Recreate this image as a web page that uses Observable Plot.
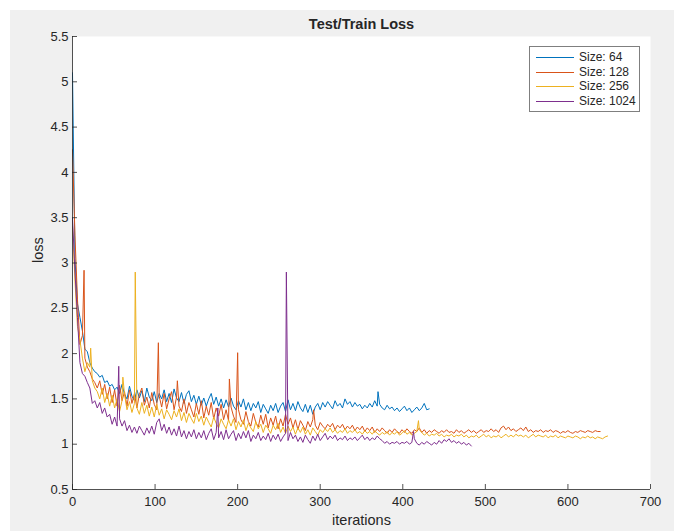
<!DOCTYPE html>
<html><head><meta charset="utf-8">
<script src="https://cdn.jsdelivr.net/npm/d3@7"></script>
<script src="https://cdn.jsdelivr.net/npm/@observablehq/plot@0.6"></script>
<style>
body{margin:0;background:#fff;font-family:"Liberation Sans",Arial,Helvetica,sans-serif;}
#wrap{position:absolute;left:10px;top:10px;width:664px;height:521px;background:#f0f0f0;overflow:hidden;}
#legend{position:absolute;left:519px;top:36px;width:109px;height:64px;background:#fff;border:1px solid #7f7f7f;font-size:12px;color:#262626;}
.row{position:absolute;left:0;height:14px;line-height:14px;white-space:nowrap;}
.sw{position:absolute;left:6px;top:7px;width:38px;height:0;border-top:1px solid;}
.lb{position:absolute;left:49px;top:0;}
</style>
</head><body>
<div id="wrap"><div id="chart"></div><div id="legend"></div></div>
<script>
const step = 3; // iterations between stored samples
const sizes = ["Size: 64", "Size: 128", "Size: 256", "Size: 1024"];
const colors = ["#0072BD", "#D95319", "#EDB120", "#7E2F8E"];
const xTicks = [0, 100, 200, 300, 400, 500, 600, 700];
const yTicks = [0.5, 1, 1.5, 2, 2.5, 3, 3.5, 4, 4.5, 5, 5.5];

const loss64 = [5.10,3.05,2.55,2.40,2.25,2.05,2.02,1.90,1.84,1.80,1.78,1.74,1.76,1.68,1.70,1.64,1.66,1.60,1.63,1.56,
1.66,1.55,1.50,1.64,1.53,1.48,1.60,1.51,1.59,1.47,
1.62,1.52,1.48,1.58,1.46,1.56,1.50,1.60,1.47,1.56,
1.46,1.61,1.51,1.47,1.57,1.45,1.55,1.59,1.47,1.54,
1.44,1.53,1.43,1.51,1.42,1.50,1.56,1.44,1.52,1.42,
1.50,1.40,1.49,1.41,1.51,1.42,1.38,1.48,1.41,1.50,
1.38,1.46,1.37,1.45,1.40,1.47,1.35,1.44,1.39,1.34,
1.43,1.37,1.45,1.35,1.42,1.46,1.36,1.49,1.38,1.45,
1.37,1.47,1.40,1.36,1.44,1.35,1.43,1.33,1.41,1.45,
1.38,1.46,1.41,1.47,1.43,1.39,1.48,1.42,1.45,1.40,1.50,1.44,1.47,1.41,1.46,1.42,1.44,1.39,1.43,1.40,
1.45,1.41,1.48,1.42,1.44,1.40,1.38,1.43,1.39,1.41,1.37,1.40,1.36,1.39,1.42,1.37,1.40,1.35,1.38,1.41,
1.37,1.40,1.45,1.38,1.39];
const spikes64 = [[370, 1.58]];

const loss128 = [4.25,3.30,2.60,2.10,2.20,1.95,1.85,1.80,1.72,1.68,
1.62,1.70,1.55,1.66,1.50,1.63,1.46,1.60,1.42,1.65,
1.48,1.58,1.42,1.60,1.45,1.56,1.40,1.55,1.62,1.43,
1.52,1.40,1.57,1.44,1.38,1.53,1.41,1.56,1.39,1.50,
1.58,1.38,1.52,1.42,1.36,1.50,1.34,1.46,1.38,1.30,
1.45,1.33,1.48,1.29,1.42,1.32,1.46,1.28,1.40,1.31,
1.44,1.27,1.38,1.26,1.41,1.31,1.24,1.38,1.27,1.22,
1.36,1.25,1.20,1.34,1.24,1.19,1.32,1.22,1.33,1.18,
1.29,1.21,1.31,1.17,1.28,1.20,1.33,1.22,1.29,1.18,
1.27,1.16,1.26,1.21,1.15,1.25,1.19,1.27,1.21,1.16,
1.24,1.20,1.17,1.22,1.19,1.23,1.16,1.21,1.18,1.22,1.16,1.20,1.17,1.21,1.15,1.19,1.16,1.20,1.14,1.18,
1.15,1.19,1.13,1.17,1.14,1.18,1.15,1.12,1.16,1.13,1.17,1.14,1.12,1.16,1.13,1.17,1.14,1.12,1.16,1.14,
1.18,1.13,1.16,1.12,1.15,1.13,1.16,1.14,1.12,1.15,1.13,1.16,1.13,1.14,1.12,1.16,1.13,1.15,1.12,1.14,
1.16,1.13,1.15,1.12,1.14,1.16,1.13,1.15,1.14,1.17,1.14,1.16,1.13,1.18,1.20,1.16,1.19,1.15,1.17,1.14,
1.16,1.18,1.15,1.19,1.14,1.16,1.13,1.15,1.14,1.16,1.13,1.15,1.14,1.16,1.13,1.15,1.14,1.12,1.14,1.13,
1.15,1.13,1.12,1.14,1.13,1.15,1.14,1.13,1.15,1.14,1.13,1.15,1.14,1.14];
const spikes128 = [[14, 2.92], [104, 2.12], [127, 1.70], [190, 1.72], [200, 2.01], [292, 1.38]];

const loss256 = [3.40,2.80,2.30,2.15,1.95,1.80,1.90,1.85,1.70,1.62,
1.58,1.50,1.62,1.46,1.56,1.42,1.54,1.40,1.50,1.36,
1.48,1.55,1.38,1.47,1.35,1.45,1.40,1.33,1.46,1.34,
1.43,1.31,1.41,1.30,1.44,1.32,1.39,1.28,1.38,1.33,
1.27,1.37,1.30,1.39,1.26,1.35,1.24,1.34,1.28,1.23,
1.34,1.25,1.31,1.21,1.30,1.24,1.19,1.30,1.23,1.18,
1.28,1.22,1.17,1.27,1.20,1.28,1.16,1.25,1.19,1.27,
1.15,1.23,1.18,1.14,1.25,1.17,1.22,1.13,1.21,1.17,
1.12,1.21,1.16,1.23,1.13,1.19,1.12,1.20,1.14,1.19,
1.11,1.18,1.13,1.19,1.11,1.16,1.10,1.18,1.14,1.10,
1.16,1.13,1.17,1.14,1.18,1.13,1.16,1.12,1.15,1.13,1.17,1.12,1.15,1.13,1.16,1.12,1.14,1.11,1.15,1.12,
1.14,1.11,1.15,1.12,1.10,1.13,1.11,1.14,1.10,1.13,1.11,1.14,1.10,1.12,1.15,1.11,1.13,1.10,1.12,1.14,
1.16,1.13,1.10,1.12,1.09,1.11,1.10,1.12,1.09,1.11,1.08,1.10,1.09,1.11,1.08,1.10,1.09,1.11,1.08,1.10,
1.07,1.09,1.08,1.10,1.07,1.09,1.11,1.08,1.10,1.07,1.09,1.08,1.10,1.07,1.09,1.11,1.08,1.10,1.08,1.11,
1.09,1.10,1.08,1.10,1.07,1.09,1.11,1.08,1.10,1.09,1.08,1.10,1.07,1.09,1.08,1.10,1.07,1.09,1.08,1.07,
1.09,1.08,1.07,1.09,1.08,1.06,1.08,1.07,1.09,1.07,1.08,1.06,1.08,1.07,1.06,1.08,1.09];
const spikes256 = [[22, 2.06], [61, 1.74], [76, 2.90], [419, 1.26]];

const loss1024 = [3.50,2.90,2.40,1.90,1.78,1.75,1.68,1.62,1.45,1.48,
1.40,1.46,1.34,1.40,1.30,1.33,1.22,1.30,1.20,1.28,
1.20,1.26,1.15,1.21,1.13,1.19,1.12,1.20,1.15,1.10,
1.18,1.12,1.20,1.11,1.24,1.28,1.15,1.22,1.12,1.19,
1.10,1.17,1.09,1.20,1.08,1.15,1.06,1.14,1.08,1.16,
1.06,1.13,1.07,1.15,1.05,1.12,1.17,1.05,1.13,1.07,
1.14,1.05,1.16,1.06,1.11,1.15,1.04,1.12,1.06,1.14,
1.07,1.15,1.03,1.10,1.06,1.13,1.04,1.09,1.05,1.12,
1.03,1.10,1.05,1.11,1.03,1.08,1.12,1.04,1.13,1.06,
1.10,1.03,1.08,1.02,1.10,1.05,1.01,1.09,1.04,1.11,
1.04,1.08,1.12,1.05,1.09,1.06,1.10,1.04,1.07,1.05,1.09,1.04,1.07,1.05,1.08,1.04,1.07,1.10,1.05,1.08,
1.04,1.07,1.05,1.09,1.06,1.04,1.01,1.03,1.00,1.02,1.01,1.03,1.00,1.02,1.01,1.03,1.00,1.02,1.06,1.01,
0.99,1.02,1.00,1.03,1.01,0.99,1.02,1.00,1.04,1.01,1.05,1.03,1.06,1.02,1.04,1.01,1.03,1.00,1.02,0.99,
1.01,0.98];
const spikes1024 = [[56, 1.86], [176, 1.40], [259, 2.90], [413, 1.14]];

function build(name, values, spikes) {
  const pts = values.map((v, i) => ({size: name, iter: i * step, loss: v}));
  spikes.forEach(([it, v]) => pts.push({size: name, iter: it, loss: v}));
  return pts.sort((a, b) => a.iter - b.iter);
}
const data = [
  ...build(sizes[0], loss64, spikes64),
  ...build(sizes[1], loss128, spikes128),
  ...build(sizes[2], loss256, spikes256),
  ...build(sizes[3], loss1024, spikes1024)
];

const W = 664, H = 521, mL = 62, mR = 24, mT = 26, mB = 42;
const ink = "#262626";
const font = '"Liberation Sans", Arial, Helvetica, sans-serif';

const chart = Plot.plot({
  width: W, height: H,
  marginLeft: mL, marginRight: mR, marginTop: mT, marginBottom: mB,
  style: {background: "transparent", fontFamily: font, fontSize: "13px", color: ink, overflow: "visible"},
  x: {domain: [0, 700], label: null},
  y: {domain: [0.5, 5.5], label: null},
  color: {domain: sizes, range: colors},
  marks: [
    Plot.frame({fill: "white", stroke: null}),
    Plot.line(data, {x: "iter", y: "loss", z: "size", stroke: "size", strokeWidth: 1}),
    Plot.tickX(xTicks, {x: d => d, stroke: ink, strokeWidth: 0.8, insetTop: H - mT - mB - 5}),
    Plot.tickY(yTicks, {y: d => d, stroke: ink, strokeWidth: 0.8, insetRight: W - mL - mR - 5}),
    Plot.ruleX([0], {stroke: ink, strokeWidth: 0.8}),
    Plot.ruleY([0.5], {stroke: ink, strokeWidth: 0.8}),
    Plot.axisX(xTicks, {tickSize: 0, tickPadding: 7, tickFormat: d => String(d), fontSize: 13, fill: ink}),
    Plot.axisY(yTicks, {tickSize: 0, tickPadding: 4, tickFormat: d => String(d), fontSize: 13, fill: ink}),
    Plot.text(["Test/Train Loss"], {text: d => d, frameAnchor: "top", dy: -12, fontWeight: "bold", fontSize: 14.5, fill: ink, lineAnchor: "middle"}),
    Plot.text(["iterations"], {text: d => d, frameAnchor: "bottom", dy: 31, fontSize: 14.5, fill: ink, lineAnchor: "middle"}),
    Plot.text(["loss"], {text: d => d, frameAnchor: "left", dx: -34, rotate: -90, fontSize: 14.5, fill: ink, lineAnchor: "middle"})
  ]
});
document.getElementById("chart").appendChild(chart);

const legend = document.getElementById("legend");
sizes.forEach((s, i) => {
  const row = document.createElement("div");
  row.className = "row";
  row.style.top = (3 + i * 14.7) + "px";
  row.style.width = "100%";
  const sw = document.createElement("div");
  sw.className = "sw";
  sw.style.borderTopColor = colors[i];
  const lb = document.createElement("div");
  lb.className = "lb";
  lb.textContent = s;
  row.appendChild(sw); row.appendChild(lb);
  legend.appendChild(row);
});
</script>
</body></html>
